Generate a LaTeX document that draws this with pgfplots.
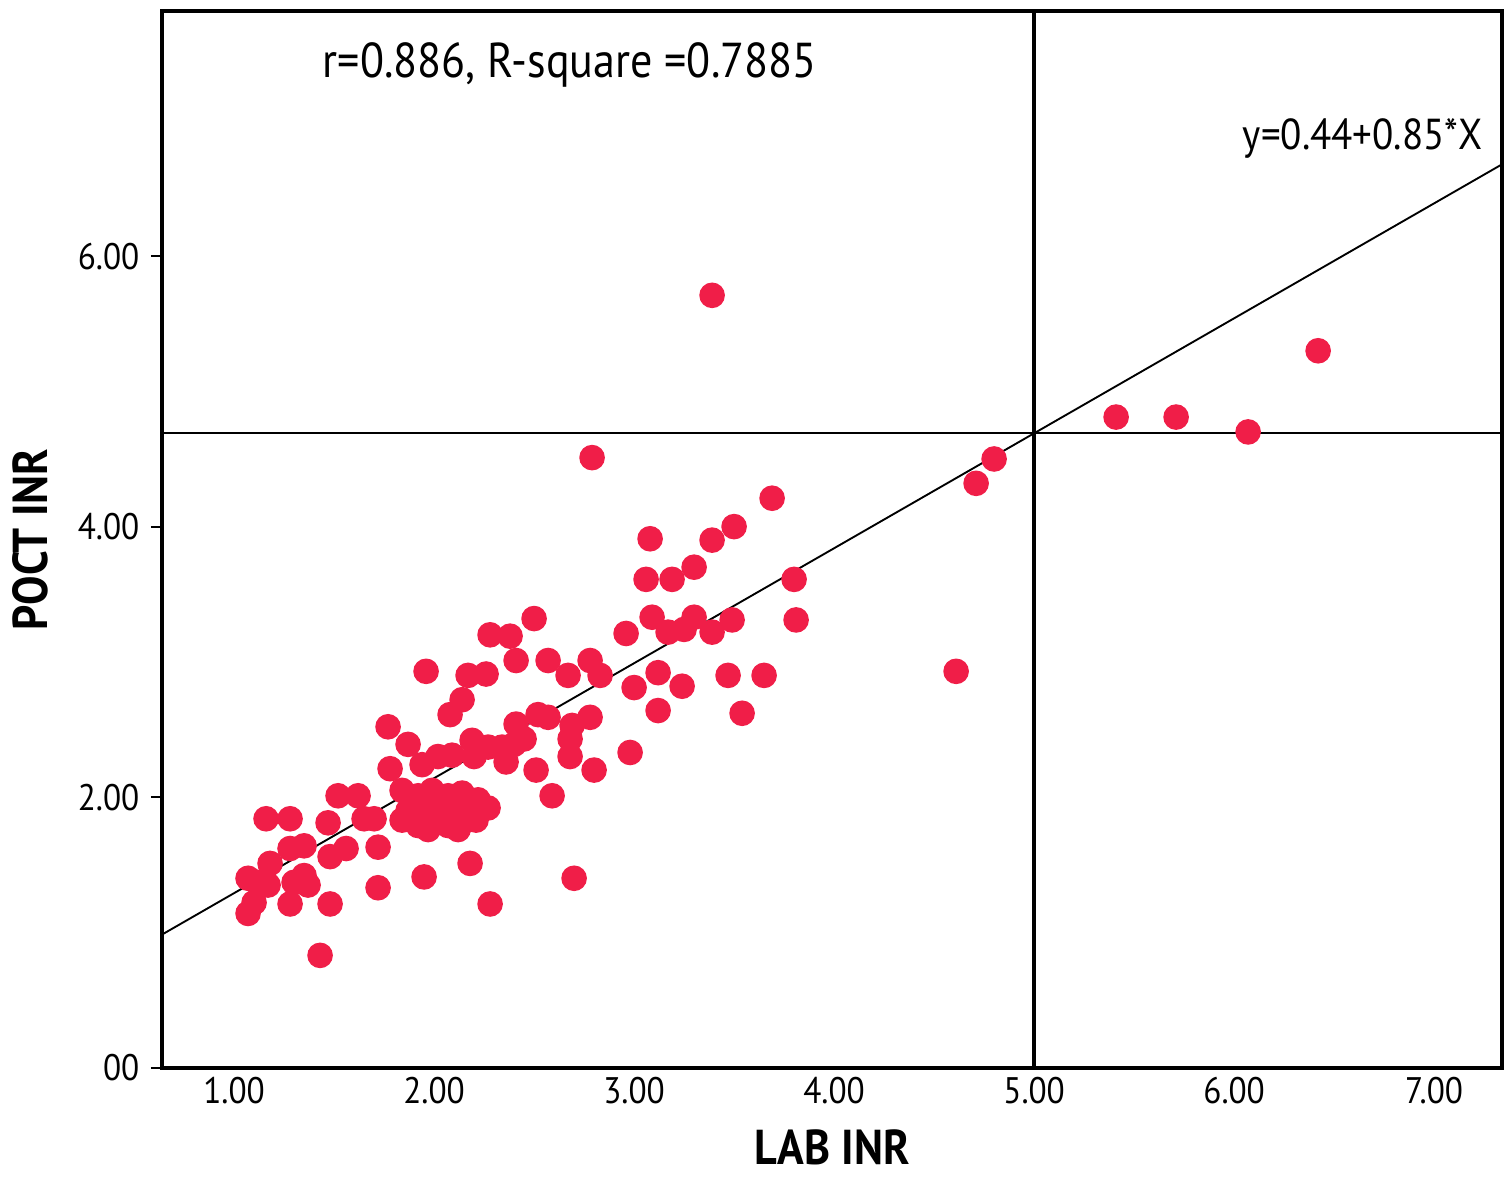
\documentclass[border=0pt]{standalone}
\usepackage{pgfplots}
\pgfplotsset{compat=1.18}
\usepackage{fontspec}
\setmainfont{PT Sans}[FakeStretch=0.9]
\definecolor{dotred}{RGB}{240,30,72}

\begin{document}
\begin{tikzpicture}
\begin{axis}[
 width=355.6pt,height=280.3pt,scale only axis,
 xmin=0.64,xmax=7.34,ymin=0,ymax=7.81,
 xtick={1,2,3,4,5,6,7},xticklabels={1.00,2.00,3.00,4.00,5.00,6.00,7.00},
 ytick={0,2,4,6},yticklabels={00,2.00,4.00,6.00},
 x tick style={draw=none},
 y tick style={black,line width=0.5pt},
 ytick pos=left,tick align=outside,major tick length=3pt,
 xticklabel style={font=\fontsize{9.8}{11}\selectfont,yshift=4pt},
 yticklabel style={font=\fontsize{9.8}{11}\selectfont,xshift=0.5pt},
 xlabel={\textbf{LAB INR}},ylabel={\textbf{POCT INR}},
 label style={font=\fontsize{13}{14}\selectfont},
 xlabel style={yshift=0pt},ylabel style={yshift=1pt},
 axis line style={line width=1pt},
 clip=false]
% scatter points
\addplot[only marks,mark=*,mark size=3.2pt,color=dotred,mark options={draw=dotred,fill=dotred}] coordinates {
(3.39,5.71) (6.42,5.30) (5.41,4.81) (5.71,4.81) (6.07,4.70)
(2.79,4.51) (4.80,4.50) (4.71,4.32) (3.69,4.21) (3.50,4.00)
(3.39,3.90) (3.08,3.91) (3.06,3.61) (3.19,3.61) (3.30,3.70)
(3.80,3.61) (3.09,3.33) (3.49,3.31) (3.81,3.31) (3.30,3.33)
(3.17,3.22) (3.25,3.24) (3.39,3.22) (2.96,3.21) (2.50,3.32)
(2.28,3.20) (2.38,3.19) (2.41,3.01) (2.57,3.01) (2.78,3.01)
(2.67,2.90) (2.83,2.90) (3.12,2.92) (3.47,2.90) (3.65,2.90)
(3.00,2.81) (3.24,2.82) (3.12,2.64) (3.54,2.62) (4.61,2.93)
(2.98,2.33) (1.96,2.93) (2.17,2.90) (2.26,2.91) (2.14,2.72)
(2.08,2.61) (2.78,2.59) (1.77,2.52) (1.87,2.39) (2.52,2.61)
(2.41,2.54) (2.57,2.59) (2.69,2.53) (2.68,2.43) (2.19,2.42)
(2.27,2.37) (2.34,2.37) (2.40,2.39) (2.45,2.43) (2.68,2.30)
(2.36,2.26) (2.20,2.30) (2.09,2.31) (2.02,2.30) (1.94,2.24)
(1.78,2.21) (2.51,2.20) (2.80,2.20) (2.59,2.01)
(1.52,2.01) (1.62,2.01) (1.65,1.84) (1.70,1.84) (1.16,1.84)
(1.28,1.84) (1.47,1.81) (1.72,1.63) (1.35,1.64) (1.28,1.62)
(1.56,1.62) (1.48,1.56) (1.18,1.51) (1.07,1.40) (1.17,1.35)
(1.12,1.37) (1.35,1.42) (1.37,1.35) (1.30,1.37) (1.95,1.41)
(2.18,1.51) (1.72,1.33) (2.70,1.40) (1.07,1.14) (1.10,1.22)
(1.28,1.21) (1.48,1.21) (2.28,1.21) (1.43,0.83)
(1.84,2.05) (1.92,2.01) (1.99,2.05) (2.07,2.01) (2.14,2.03)
(2.22,1.98) (1.87,1.90) (1.94,1.90) (2.02,1.94) (2.09,1.93)
(2.17,1.90) (2.27,1.92) (1.84,1.83) (1.92,1.79) (1.99,1.83)
(2.07,1.79) (2.14,1.81) (2.21,1.83) (1.97,1.76) (2.12,1.76)
(2.04,1.87)
};
% reference lines
\addplot[black,line width=1pt] coordinates {(5,0) (5,7.81)};
\addplot[black,line width=0.6pt] coordinates {(0.64,4.69) (7.34,4.69)};
% fit line y=0.44+0.85x
\addplot[black,line width=0.5pt] coordinates {(0.64,0.984) (7.34,6.679)};
\node[anchor=west,inner sep=0pt,font=\fontsize{13}{14}\selectfont] at (axis cs:1.44,7.41) {r=0.886, R-square =0.7885};
\node[anchor=west,inner sep=0pt,font=\fontsize{11.5}{12}\selectfont] at (axis cs:6.04,6.87) {y=0.44+0.85*X};
\end{axis}
\end{tikzpicture}
\end{document}
